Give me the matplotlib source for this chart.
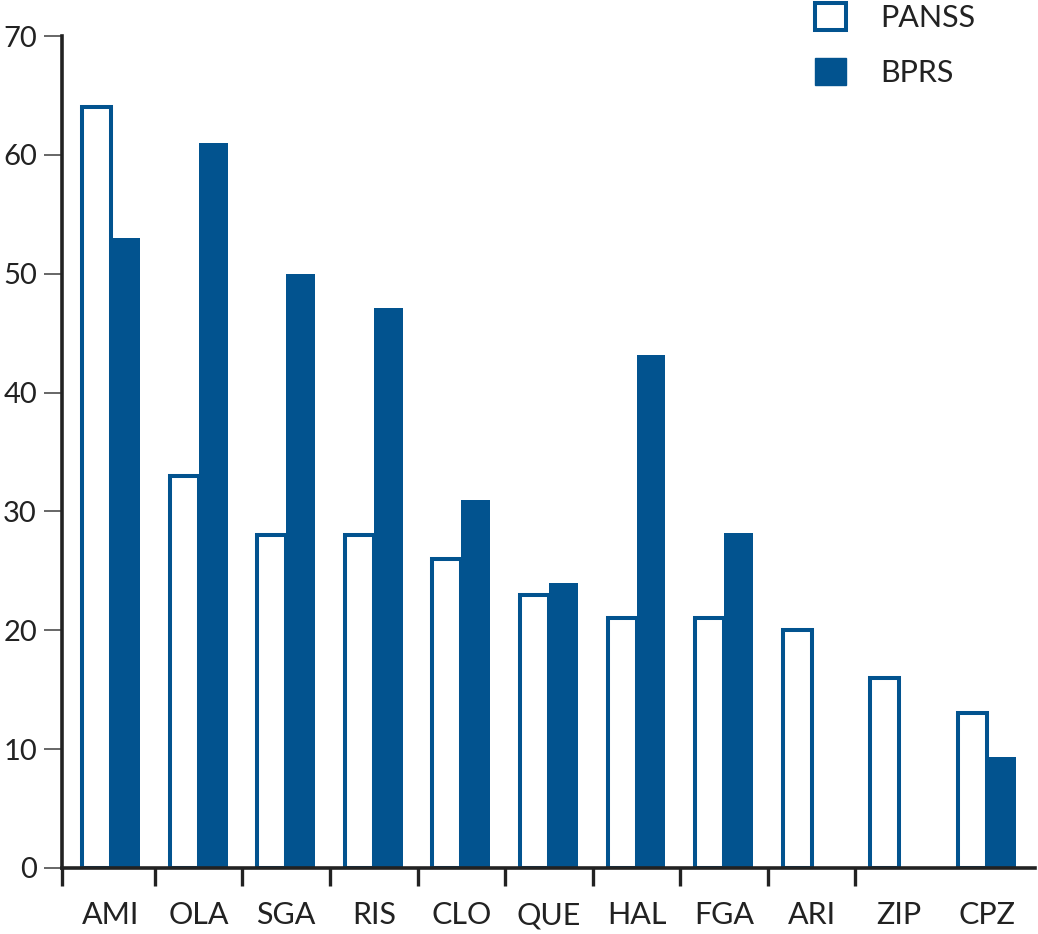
import matplotlib
matplotlib.use('Agg')
import matplotlib.pyplot as plt
from matplotlib.patches import Patch
import numpy as np

plt.rcParams['font.family'] = ['Lato', 'DejaVu Sans']

drugs = ['AMI', 'OLA', 'SGA', 'RIS', 'CLO', 'QUE', 'HAL', 'FGA', 'ARI', 'ZIP', 'CPZ']
panss = [64, 33, 28, 28, 26, 23, 21, 21, 20, 16, 13]
bprs = [53, 61, 50, 47.1, 31, 24, 43.2, 28.2, 0, 0, 9.3]

blue = '#02538f'
ink = '#222222'

fig = plt.figure(figsize=(10.38, 9.34), dpi=100)
ax = fig.add_axes([62 / 1038, 1 - 868 / 934, (1035 - 62) / 1038, (868 - 36) / 934])

x = np.arange(len(drugs))
w = 0.33
ax.bar(x - w / 2, panss, w, facecolor='white', edgecolor=blue, linewidth=2.9, label='PANSS')
ax.bar(x + w / 2, bprs, w, color=blue, linewidth=0, label='BPRS')

ax.set_xlim(-0.56, 10.55)
ax.set_ylim(0, 70)

ax.spines['top'].set_visible(False)
ax.spines['right'].set_visible(False)
for s in ('left', 'bottom'):
    ax.spines[s].set_color(ink)
    ax.spines[s].set_linewidth(2.6)

ax.set_yticks(range(0, 71, 10))
ax.tick_params(axis='y', length=13, width=1.4, color='#666666', pad=5,
               labelsize=21, labelcolor=ink)

# category labels without marks, marks between groups
ax.set_xticks(x)
ax.set_xticklabels(drugs)
ax.tick_params(axis='x', which='major', length=0, pad=24, labelsize=22, labelcolor=ink)
ax.set_xticks(list(x[:9] + 0.5) + [-0.56], minor=True)
ax.tick_params(axis='x', which='minor', length=13, width=2.4, color=ink)

handles = [Patch(facecolor='white', edgecolor=blue, linewidth=2.9),
           Patch(facecolor=blue, edgecolor=blue)]
fig.legend(handles, ['PANSS', 'BPRS'], loc='upper left',
           bbox_to_anchor=(815 / 1038, 0.997), frameon=False, fontsize=22,
           handlelength=1.0, handleheight=1.0, handletextpad=1.15,
           labelspacing=0.85, borderpad=0, borderaxespad=0, labelcolor=ink)

fig.savefig('out.png', dpi=100)
